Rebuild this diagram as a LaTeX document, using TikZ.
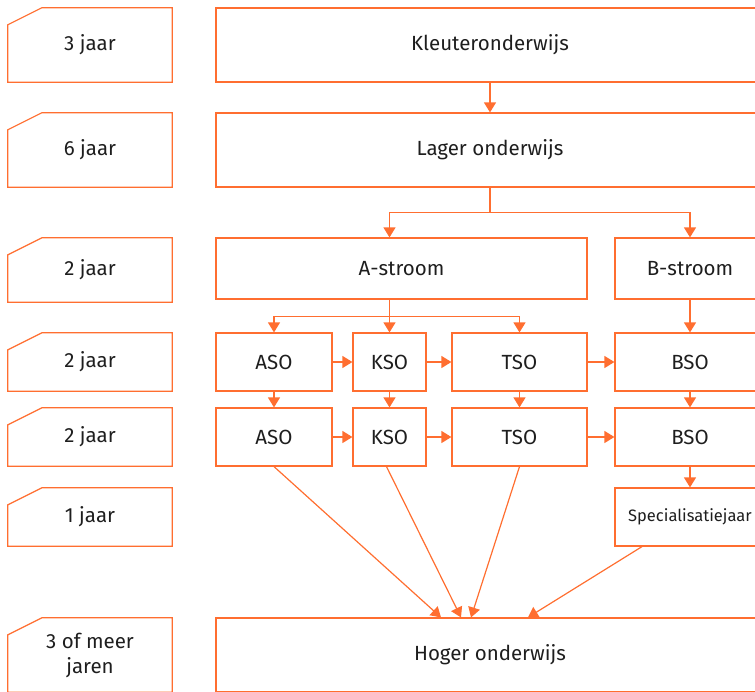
\documentclass[tikz,border=0pt]{standalone}
\usepackage{fontspec}
\setmainfont{Fira Sans}
\usetikzlibrary{arrows.meta}
\definecolor{schoolorange}{RGB}{255,110,48}
\definecolor{schooltext}{RGB}{30,30,30}

\begin{document}
\begin{tikzpicture}[x=1pt,y=-1pt,
  line/.style={draw=schoolorange,line width=1.2pt},
  flow/.style={line,-{Triangle[width=12pt,length=10pt]}},
  box/.style={line,rectangle,inner sep=0pt,text=schooltext,font=\fontsize{20.5}{25}\selectfont},
  agebox/.style={rectangle,inner sep=0pt,minimum width=164pt,text=schooltext,align=center,font=\fontsize{20.5}{25}\selectfont}]
       \useasboundingbox (0,0) rectangle (755,691);
       \clip (0,0) rectangle (755,691);
       \node[agebox,minimum height=74pt] (age1) at ( 90, 45) {3 jaar};
       \node[agebox,minimum height=74pt] (age2) at ( 90,150) {6 jaar};
       \node[agebox,minimum height=64pt] (age3) at ( 90,270) {2 jaar};
       \node[agebox,minimum height=58pt] (age4) at ( 90,362) {2 jaar};
       \node[agebox,minimum height=58pt] (age5) at ( 90,437) {2 jaar};
       \node[agebox,minimum height=58pt] (age6) at ( 90,517) {1 jaar};
       \node[agebox,minimum height=74pt] (age7) at ( 90,655) {3 of meer\\jaren};
       \foreach \n in {age1,age2,age3,age4,age5,age6,age7}
         \draw[line] (\n.south west) -- ([yshift=-17pt]\n.north west) -- ([xshift=34pt]\n.north west)
           -- (\n.north east) -- (\n.south east) -- cycle;
       \node[box,minimum width=548pt,minimum height=74pt] (kleuter) at (490, 45) {Kleuteronderwijs};
       \node[box,minimum width=548pt,minimum height=74pt] (lager)   at (490,150) {Lager onderwijs};
       \node[box,minimum width=371pt,minimum height=61pt] (astroom) at (401.5,268.5) {A-stroom};
       \node[box,minimum width=150pt,minimum height=61pt] (bstroom) at (690,268.5) {B-stroom};
       \node[box,minimum width=116pt,minimum height=58pt] (aso1) at (274,362) {ASO};
       \node[box,minimum width= 73pt,minimum height=58pt] (kso1) at (389.5,362) {KSO};
       \node[box,minimum width=135pt,minimum height=58pt] (tso1) at (519.5,362) {TSO};
       \node[box,minimum width=150pt,minimum height=58pt] (bso1) at (690,362) {BSO};
       \node[box,minimum width=116pt,minimum height=58pt] (aso2) at (274,437) {ASO};
       \node[box,minimum width= 73pt,minimum height=58pt] (kso2) at (389.5,437) {KSO};
       \node[box,minimum width=135pt,minimum height=58pt] (tso2) at (519.5,437) {TSO};
       \node[box,minimum width=150pt,minimum height=58pt] (bso2) at (690,437) {BSO};
       \node[box,minimum width=150pt,minimum height=58pt,font=\fontsize{16.5}{20}\selectfont] (spec) at (690,517) {Specialisatiejaar};
       \node[box,minimum width=548pt,minimum height=74pt] (hoger) at (490,655) {Hoger onderwijs};
       \draw[flow] (kleuter.south) -- (lager.north);
       \draw[line] (lager.south) -- ++(0,25) coordinate (split1);
       \draw[flow] (split1) -| (astroom.north -| kso1.north);
       \draw[flow] (split1) -| (bstroom.north);
       \draw[line] (astroom.south -| kso1.north) -- ++(0,17) coordinate (split2);
       \draw[flow] (split2) -- (kso1.north);
       \draw[flow] (split2) -| (aso1.north);
       \draw[flow] (split2) -| (tso1.north);
       \draw[flow] (bstroom.south) -- (bso1.north);
       \foreach \a/\b in {aso1/kso1,kso1/tso1,tso1/bso1,aso2/kso2,kso2/tso2,tso2/bso2}
         \draw[flow] (\a.east) -- (\b.west);
       \foreach \a/\b in {aso1/aso2,kso1/kso2,tso1/tso2,bso1/bso2,bso2/spec}
         \draw[flow] (\a.south) -- (\b.north);
       \draw[flow] (aso2.south) -- ([xshift=-49pt]hoger.north);
       \draw[flow] ([xshift=-3pt]kso2.south) -- ([xshift=-29pt]hoger.north);
       \draw[flow] (tso2.south) -- ([xshift=-19pt]hoger.north);
       \draw[flow] ([xshift=-48pt]spec.south) -- ([xshift=38pt]hoger.north);
      \end{tikzpicture}
\end{document}
